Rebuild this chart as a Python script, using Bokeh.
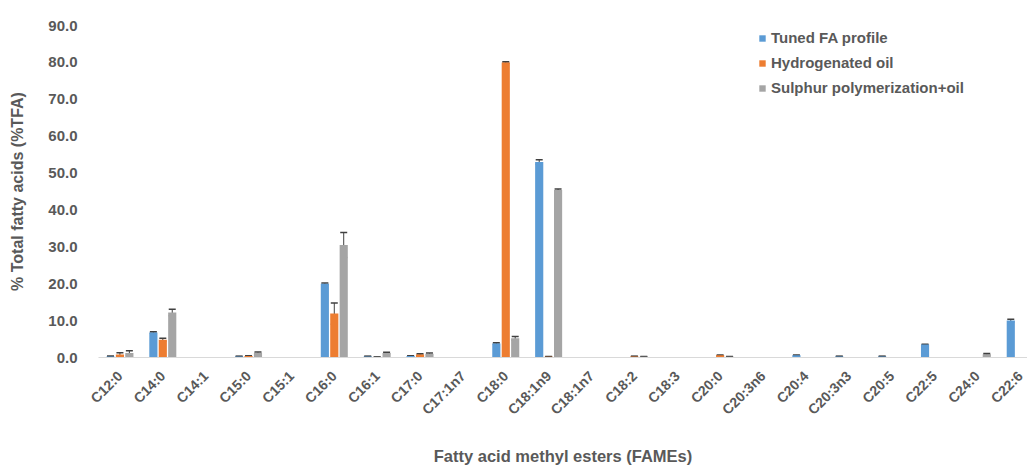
import numpy as np
from bokeh.plotting import figure
from bokeh.models import (ColumnDataSource, Range1d, FixedTicker, NumeralTickFormatter,
                          Whisker, TeeHead, Legend, LegendItem)
from bokeh.embed import file_html
from bokeh.resources import INLINE

categories = ["C12:0", "C14:0", "C14:1", "C15:0", "C15:1", "C16:0", "C16:1", "C17:0",
              "C17:1n7", "C18:0", "C18:1n9", "C18:1n7", "C18:2", "C18:3", "C20:0",
              "C20:3n6", "C20:4", "C20:3n3", "C20:5", "C22:5", "C24:0", "C22:6"]

tuned      = [0.3, 6.8, 0.0, 0.3, 0.0, 20.0, 0.3, 0.4, 0.0, 3.8, 53.0, 0.0, 0.0, 0.0, 0.0,
              0.0, 0.6, 0.3, 0.3, 3.5, 0.0, 10.0]
tuned_err  = [0.1, 0.2, 0.0, 0.05, 0.0, 0.2, 0.05, 0.05, 0.0, 0.2, 0.6, 0.0, 0.0, 0.0, 0.0,
              0.0, 0.1, 0.05, 0.05, 0.1, 0.0, 0.4]
hydro      = [0.8, 4.8, 0.0, 0.4, 0.0, 11.9, 0.1, 0.8, 0.0, 80.0, 0.2, 0.0, 0.3, 0.0, 0.6,
              0.0, 0.0, 0.0, 0.0, 0.0, 0.0, 0.0]
hydro_err  = [0.5, 0.4, 0.0, 0.05, 0.0, 2.9, 0.05, 0.2, 0.0, 0.2, 0.05, 0.0, 0.05, 0.0, 0.1,
              0.0, 0.0, 0.0, 0.0, 0.0, 0.0, 0.0]
sulphur    = [1.2, 12.2, 0.0, 1.3, 0.0, 30.5, 1.2, 1.0, 0.0, 5.2, 45.4, 0.0, 0.2, 0.0, 0.2,
              0.0, 0.0, 0.0, 0.0, 0.0, 0.9, 0.0]
sulphur_err = [0.6, 0.9, 0.0, 0.2, 0.0, 3.4, 0.2, 0.2, 0.0, 0.5, 0.3, 0.0, 0.05, 0.0, 0.05,
               0.0, 0.0, 0.0, 0.0, 0.0, 0.2, 0.0]

series_names = ["Tuned FA profile", "Hydrogenated oil", "Sulphur polymerization+oil"]
colors = ["#5B9BD5", "#ED7D31", "#A5A5A5"]
offsets = [-0.22, 0.0, 0.22]

FONT = "Liberation Sans"
TXT = "#595959"

p = figure(width=1027, height=468, output_backend="svg", toolbar_location=None,
           x_range=Range1d(-0.5, 21.17), y_range=Range1d(0, 90),
           min_border_left=98, min_border_right=0, min_border_top=25, min_border_bottom=110)
p.outline_line_color = None
p.xgrid.grid_line_color = None
p.ygrid.grid_line_color = None

idx = np.arange(len(categories))
renderers = []
for vals, errs, col, off in zip([tuned, hydro, sulphur], [tuned_err, hydro_err, sulphur_err],
                                colors, offsets):
    v = np.array(vals)
    e = np.array(errs)
    src = ColumnDataSource(dict(x=idx + off, top=v))
    r = p.vbar(x="x", top="top", width=0.19, source=src, fill_color=col, line_color=None)
    renderers.append(r)
    mask = v > 0
    wsrc = ColumnDataSource(dict(x=(idx + off)[mask], upper=(v + e)[mask], lower=(v - e)[mask]))
    w = Whisker(base="x", upper="upper", lower="lower", source=wsrc,
                line_color="#404040", line_width=1,
                upper_head=TeeHead(size=7, line_color="#404040", line_width=1.5),
                lower_head=TeeHead(size=7, line_color="#404040", line_width=1.5))
    p.add_layout(w)

# axes
p.xaxis.ticker = FixedTicker(ticks=list(range(len(categories))))
p.xaxis.major_label_overrides = {i: c for i, c in enumerate(categories)}
p.xaxis.major_label_orientation = np.pi / 4
p.xaxis.major_tick_line_color = None
p.xaxis.minor_tick_line_color = None
p.xaxis.axis_line_color = "#D9D9D9"
p.xaxis.major_label_text_font = FONT
p.xaxis.major_label_text_font_style = "bold"
p.xaxis.major_label_text_font_size = "14px"
p.xaxis.major_label_text_color = TXT
p.xaxis.major_label_standoff = 10
p.xaxis.axis_label = "Fatty acid methyl esters (FAMEs)"
p.xaxis.axis_label_text_font = FONT
p.xaxis.axis_label_text_font_style = "bold"
p.xaxis.axis_label_text_font_size = "16.5px"
p.xaxis.axis_label_text_color = TXT
p.xaxis.axis_label_standoff = 21

p.yaxis.ticker = FixedTicker(ticks=list(range(0, 91, 10)))
p.yaxis.formatter = NumeralTickFormatter(format="0.0")
p.yaxis.axis_line_color = None
p.yaxis.major_tick_line_color = None
p.yaxis.minor_tick_line_color = None
p.yaxis.major_label_text_font = FONT
p.yaxis.major_label_text_font_style = "bold"
p.yaxis.major_label_text_font_size = "15px"
p.yaxis.major_label_text_color = TXT
p.yaxis.major_label_standoff = 15
p.yaxis.axis_label = "% Total fatty acids (%TFA)"
p.yaxis.axis_label_text_font = FONT
p.yaxis.axis_label_text_font_style = "bold"
p.yaxis.axis_label_text_font_size = "16px"
p.yaxis.axis_label_text_color = TXT
p.yaxis.axis_label_standoff = 19

legend = Legend(items=[LegendItem(label=n, renderers=[r]) for n, r in zip(series_names, renderers)],
                location=(660, 261), background_fill_alpha=0, border_line_color=None,
                glyph_width=8, glyph_height=8, label_text_font=FONT,
                label_text_font_style="bold", label_text_font_size="15px",
                label_text_color=TXT, spacing=8, padding=0, margin=0, label_standoff=5)
p.add_layout(legend)

open("out.html", "w").write(file_html(p, INLINE))
